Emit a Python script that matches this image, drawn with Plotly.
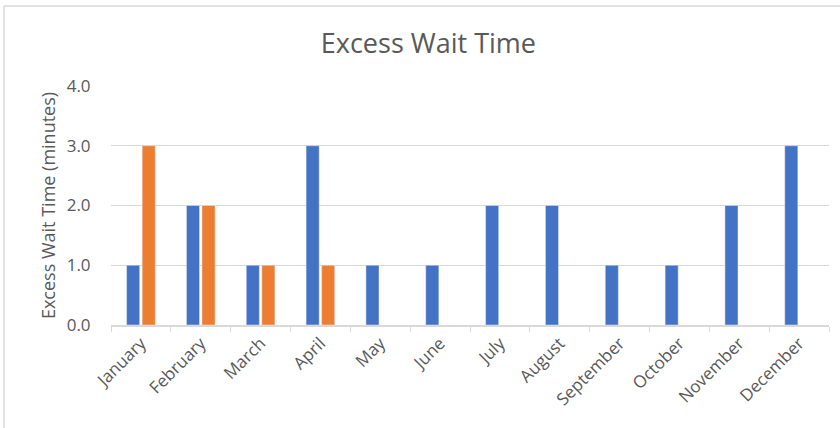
import plotly.graph_objects as go

months = ["January", "February", "March", "April", "May", "June", "July",
          "August", "September", "October", "November", "December"]
series_a = [1, 2, 1, 3, 1, 1, 2, 2, 1, 1, 2, 3]
series_b = [3, 2, 1, 1, None, None, None, None, None, None, None, None]
y_ticks = [0, 1, 2, 3, 4]

W, H = 840, 428
L, R, T, B = 111, 11, 86, 103
pw, ph = W - L - R, H - T - B

fig = go.Figure()
fig.add_trace(go.Bar(x=months, y=series_a, marker_color="#4472C4", name="A"))
fig.add_trace(go.Bar(x=months, y=series_b, marker_color="#ED7D31", name="B"))

font = "'Open Sans', sans-serif"
fig.update_layout(
    width=W, height=H,
    margin=dict(l=L, r=R, t=T, b=B),
    paper_bgcolor="white", plot_bgcolor="white",
    barmode="group", bargap=0.48, bargroupgap=0.16,
    showlegend=False,
    font=dict(family=font, color="#595959", size=17),
    title=dict(text="Excess Wait Time", x=0.51, xanchor="center",
               y=1 - 44 / H, yanchor="middle",
               font=dict(family=font, size=27, color="#595959")),
    xaxis=dict(type="category", tickangle=-45, showgrid=False,
               showline=True, linecolor="#d9d9d9", linewidth=1.5,
               ticks="outside", tickson="boundaries", ticklen=5,
               tickcolor="#d9d9d9", tickfont=dict(size=17, color="#595959")),
    yaxis=dict(range=[0, 4], tickvals=y_ticks,
               ticktext=[f"{v:.1f}" for v in y_ticks],
               showgrid=True, gridcolor="#d9d9d9", gridwidth=1,
               zeroline=False, showline=False,
               ticks="outside", ticklen=16, tickcolor="rgba(0,0,0,0)",
               tickfont=dict(size=17, color="#595959"),
               title=dict(text="Excess Wait Time (minutes)", standoff=6,
                          font=dict(size=18, color="#595959"))),
)

# outer chart border (partially cropped at right/bottom)
x0 = (4 - L) / pw
y1 = (H - B - 6) / ph
fig.add_shape(type="line", xref="paper", yref="paper",
              x0=x0, x1=(W + 10 - L) / pw, y0=y1, y1=y1,
              line=dict(color="#d9d9d9", width=1.5))
fig.add_shape(type="line", xref="paper", yref="paper",
              x0=x0, x1=x0, y0=y1, y1=-(B + 10) / ph,
              line=dict(color="#d9d9d9", width=1.5))

fig.write_html("out.html")
